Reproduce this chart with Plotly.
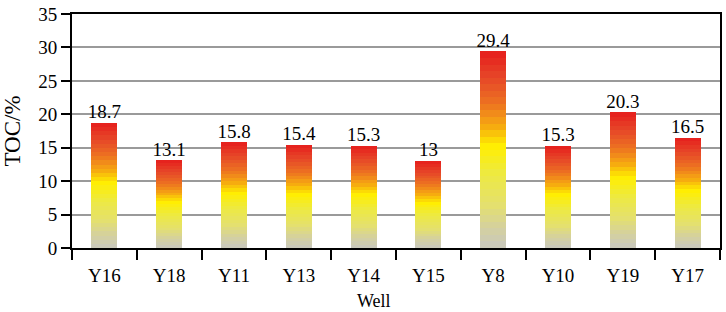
import plotly.graph_objects as go

wells = ["Y16", "Y18", "Y11", "Y13", "Y14", "Y15", "Y8", "Y10", "Y19", "Y17"]
toc = [18.7, 13.1, 15.8, 15.4, 15.3, 13, 29.4, 15.3, 20.3, 16.5]
labels = ["18.7", "13.1", "15.8", "15.4", "15.3", "13", "29.4", "15.3", "20.3", "16.5"]
y_ticks = [0, 5, 10, 15, 20, 25, 30, 35]

# gradient stops (fraction of bar height, colour)
stops = [
    (0.00, (200, 200, 190)),
    (0.10, (212, 208, 160)),
    (0.22, (228, 224, 110)),
    (0.38, (238, 234, 64)),
    (0.52, (255, 238, 0)),
    (0.62, (246, 170, 16)),
    (0.74, (236, 112, 34)),
    (0.87, (230, 70, 40)),
    (1.00, (230, 30, 28)),
]

def grad(f):
    for (f0, c0), (f1, c1) in zip(stops[:-1], stops[1:]):
        if f <= f1:
            t = (f - f0) / (f1 - f0) if f1 > f0 else 0
            c = [round(a + (b - a) * t) for a, b in zip(c0, c1)]
            return "rgb({},{},{})".format(*c)
    return "rgb({},{},{})".format(*stops[-1][1])

N = 30
fig = go.Figure()
for k in range(N):
    f = (k + 0.5) / N
    fig.add_trace(go.Bar(
        x=wells, y=[v / N for v in toc],
        marker=dict(color=grad(f), line=dict(width=0)),
        width=0.4, showlegend=False, hoverinfo="skip",
    ))

fig.add_trace(go.Scatter(
    x=wells, y=toc, mode="text", text=labels, textposition="top center",
    textfont=dict(family="Liberation Serif", size=19, color="black"),
    showlegend=False, hoverinfo="skip",
))

fig.update_layout(
    barmode="stack", bargap=0.6,
    width=726, height=312,
    margin=dict(l=72, r=4, t=5, b=64),
    plot_bgcolor="white", paper_bgcolor="white",
    font=dict(family="Liberation Serif", size=18, color="black"),
    showlegend=False,
    annotations=[dict(text="Well", xref="paper", yref="paper", x=0.466, y=-0.272,
                      xanchor="center", yanchor="bottom", showarrow=False, borderpad=0,
                      font=dict(family="Liberation Serif", size=18, color="black"))],
)
fig.update_xaxes(
    showline=True, linecolor="black", linewidth=2, mirror=True,
    ticks="outside", tickson="boundaries", ticklen=10, tickwidth=2, tickcolor="black",
    ticklabelstandoff=9,
    tickfont=dict(family="Liberation Serif", size=19), showgrid=False,
)
fig.update_yaxes(
    range=[0, 35], tickvals=y_ticks, ticklabeloverflow="allow",
    showline=True, linecolor="black", linewidth=2, mirror=True,
    ticks="outside", ticklen=9, tickwidth=2, tickcolor="black",
    showgrid=True, gridcolor="#9a9a9a", gridwidth=1.5, zeroline=False,
    tickfont=dict(family="Liberation Serif", size=19),
    title=dict(text="TOC/%", font=dict(family="Liberation Serif", size=23), standoff=17),
)
fig.write_html("out.html", config={"displayModeBar": False},
               post_script="document.body.style.margin='0';document.body.style.overflow='hidden';")
